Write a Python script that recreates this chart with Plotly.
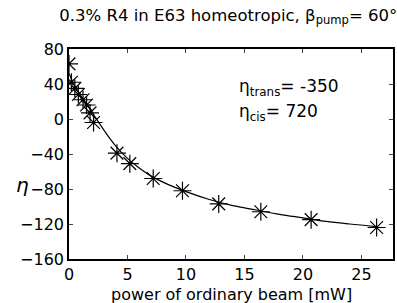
import plotly.graph_objects as go

power_mw = [0.0, 0.2, 0.5, 0.8, 1.2, 1.5, 1.8, 2.1, 4.1, 5.2, 7.2, 9.7, 12.8, 16.4, 20.7, 26.3]
eta = [63, 42, 35, 28, 22, 16, 7, -4, -39, -51, -68, -82, -97, -106, -115, -124]

fit_x = [0.0, 0.3, 0.6, 1.0, 1.5, 2.0, 2.5, 3.0, 4.0, 5.0, 6.0, 7.0, 8.5, 10.0, 12.0, 14.0, 16.0, 18.0, 20.0, 22.0, 24.0, 26.3]
fit_y = [52, 43, 35, 27, 17, 7, -3, -13, -31, -45, -56, -65, -75, -83, -92, -99, -104, -109, -113, -117, -120, -123]

x_ticks = [0, 5, 10, 15, 20, 25]
y_ticks = [80, 40, 0, -40, -80, -120, -160]

fig = go.Figure()
fig.add_trace(go.Scatter(x=fit_x, y=fit_y, mode="lines", line=dict(color="black", width=1.2, shape="spline"), showlegend=False))
fig.add_trace(go.Scatter(x=power_mw, y=eta, mode="markers",
                         marker=dict(symbol="asterisk-open", size=15, color="black", line=dict(color="black", width=1.2)),
                         showlegend=False))

fam = "DejaVu Sans"
fig.update_layout(
    width=397, height=303,
    margin=dict(l=69, r=4, t=49, b=44),
    paper_bgcolor="white", plot_bgcolor="white",
    font=dict(family=fam, size=16, color="black"),
    title=dict(text="0.3% R4 in E63 homeotropic, β<sub>pump</sub>= 60°", x=0.575, xanchor="center",
               yref="container", y=0.95, yanchor="middle", font=dict(family=fam, size=16.5), automargin=False),
    xaxis=dict(range=[0, 27.7], tickvals=x_ticks, ticks="inside", ticklen=4, showgrid=False, zeroline=False,
               showline=True, linecolor="black", linewidth=1.5, mirror="ticks", automargin=False,
               tickfont=dict(size=16)),
    yaxis=dict(range=[-160, 80], tickvals=y_ticks, ticks="inside", ticklen=4, showgrid=False, zeroline=False,
               showline=True, linecolor="black", linewidth=1.5, mirror="ticks", automargin=False,
               tickfont=dict(size=16)),
    annotations=[
        dict(x=-0.145, y=0.352, xref="paper", yref="paper", text="<i>η</i>", showarrow=False,
             xanchor="center", yanchor="middle", font=dict(size=20)),
        dict(x=0.5, y=-0.171, xref="paper", yref="paper", text="power of ordinary beam [mW]", showarrow=False,
             xanchor="center", yanchor="middle", font=dict(size=16)),
        dict(x=14.4, y=36, xref="x", yref="y", text="η<sub>trans</sub>= -350", showarrow=False, xanchor="left", font=dict(size=17)),
        dict(x=14.4, y=8, xref="x", yref="y", text="η<sub>cis</sub>= 720", showarrow=False, xanchor="left", font=dict(size=17)),
    ],
)
fig.write_html("out.html", config={"displayModeBar": False}, post_script="document.body.style.margin='0px';")
